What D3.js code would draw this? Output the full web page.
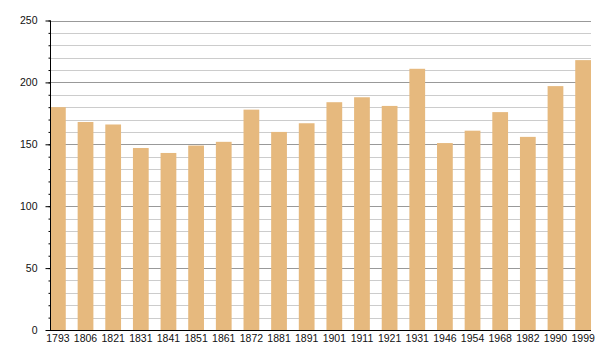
<!DOCTYPE html>
<html>
<head>
<meta charset="utf-8">
<script src="https://cdn.jsdelivr.net/npm/d3@7.9.0/dist/d3.min.js"></script>
<style>
  body { margin: 0; background: #fff; }
  text { font-family: "Liberation Sans", Arial, sans-serif; font-size: 10.5px; fill: #111; }
</style>
</head>
<body>
<svg id="chart" width="600" height="360"></svg>
<script>
const years  = ['1793','1806','1821','1831','1841','1851','1861','1872','1881','1891',
                '1901','1911','1921','1931','1946','1954','1968','1982','1990','1999'];
const values = [180, 168, 166, 147, 143, 149, 152, 178, 160, 167,
                184, 188, 181, 211, 151, 161, 176, 156, 197, 218];
const majorTicks = [0, 50, 100, 150, 200, 250];
const minorTicks = d3.range(0, 251, 10);

const plotLeft = 50, plotRight = 591, plotTop = 20.5, plotBottom = 330;

const svg = d3.select('#chart');

const x = d3.scaleBand()
  .domain(years)
  .range([plotLeft, plotRight])
  .paddingInner(0.43)
  .paddingOuter(0);

const y = d3.scaleLinear().domain([0, 250]).range([plotBottom, plotTop]);

// grid
svg.append('g')
  .selectAll('line')
  .data(minorTicks)
  .join('line')
    .attr('x1', plotLeft).attr('x2', plotRight)
    .attr('y1', d => Math.round(y(d)) + 0.5)
    .attr('y2', d => Math.round(y(d)) + 0.5)
    .attr('stroke', d => d % 50 === 0 ? '#999' : '#ccc')
    .attr('stroke-width', 1);

// bars
svg.append('g')
  .selectAll('rect')
  .data(values)
  .join('rect')
    .attr('x', (_, i) => x(years[i]))
    .attr('y', d => y(d))
    .attr('width', x.bandwidth())
    .attr('height', d => plotBottom - y(d))
    .attr('fill', '#e6b97e');

// y axis
const yAxisMinor = d3.axisLeft(y).tickValues(minorTicks).tickSize(2).tickFormat('');
const yAxisMajor = d3.axisLeft(y).tickValues(majorTicks).tickSize(5).tickPadding(8);

svg.append('g')
  .attr('transform', `translate(${plotLeft + 0.5},0)`)
  .call(yAxisMinor)
  .call(g => g.select('.domain').remove())
  .selectAll('line').attr('stroke', '#000');

svg.append('g')
  .attr('transform', `translate(${plotLeft + 0.5},0)`)
  .call(yAxisMajor)
  .call(g => g.select('.domain').attr('d', `M0,${plotTop}V${plotBottom}`).attr('stroke', '#000'))
  .call(g => g.selectAll('text').attr('font-size', 10.5).attr('font-family', null).attr('fill', '#111'))
  .selectAll('line').attr('stroke', '#000');

// x axis
svg.append('g')
  .attr('transform', `translate(0,${plotBottom + 0.5})`)
  .call(d3.axisBottom(x).tickSize(0).tickPadding(4))
  .call(g => g.select('.domain').attr('d', `M${plotLeft},0H${plotRight}`).attr('stroke', '#000'))
  .call(g => g.selectAll('text').attr('font-size', 10.5).attr('font-family', null).attr('fill', '#111'));
</script>
</body>
</html>
